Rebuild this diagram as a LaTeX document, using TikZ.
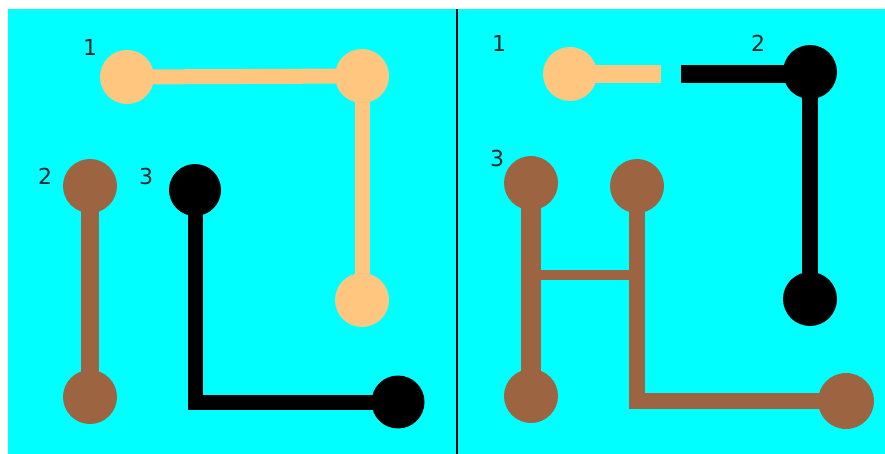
\documentclass[tikz,border=0pt]{standalone}
\usepackage{fontspec}
\setmainfont{DejaVu Sans}
\definecolor{peach}{RGB}{255,198,128}
\definecolor{brownish}{RGB}{156,100,65}
\definecolor{aqua}{RGB}{0,255,255}
\definecolor{ink}{RGB}{10,40,40}
\pgfdeclarelayer{bg}
\pgfdeclarelayer{wires}
\pgfsetlayers{bg,wires,main}
\begin{document}
\begin{tikzpicture}[x=1pt,y=-1pt,
  pad/.style={circle,fill=#1,inner sep=0pt,minimum size=54pt},
  lbl/.style={font=\fontsize{22}{22}\selectfont,text=ink,inner sep=0pt},
  wire/.style={draw=#1,line cap=butt}]
\useasboundingbox (0,0) rectangle (885,454);
\begin{pgfonlayer}{bg}
  \fill[white] (0,0) rectangle (885,454);
  \fill[aqua] (8,9) rectangle (885,454);
  \fill[black] (456,9) rectangle (458,454);
\end{pgfonlayer}
% ---- left panel ----
\node[pad=peach] (p1) at (127,77) {};
\node[pad=peach] (p2) at (362,76) {};
\node[pad=peach] (p3) at (362,300) {};
\node[pad=brownish] (r1) at (90,186) {};
\node[pad=brownish] (r2) at (90,397) {};
\node[pad=black,minimum size=52pt] (k1) at (195,190) {};
\node[pad=black,minimum size=53pt] (k2) at (398,402) {};
\node[lbl] (l1) at (90,47) {1};
\node[lbl] (l2) at (45,176) {2};
\node[lbl] (l3) at (146,176) {3};
% ---- right panel ----
\node[pad=peach] (q1) at (570,74) {};
\node[pad=black] (m1) at (810,72) {};
\node[pad=black] (m2) at (810,299) {};
\node[pad=brownish] (s1) at (531,183) {};
\node[pad=brownish] (s2) at (637,186) {};
\node[pad=brownish] (s3) at (531,396) {};
\node[pad=brownish,minimum size=56pt] (s4) at (846,401) {};
\coordinate (qstub) at (661,74);
\coordinate (mstub) at (681,74);
\node[lbl] (n1) at (499,43) {1};
\node[lbl] (n2) at (758,43) {2};
\node[lbl] (n3) at (497,158) {3};
\begin{pgfonlayer}{wires}
  \draw[wire=peach,line width=15pt] (p1.center) -- (p2.center);
  \draw[wire=peach,line width=15pt] (p2.center) -- (p3.center);
  \draw[wire=brownish,line width=18pt] (r1.center) -- (r2.center);
  \draw[wire=black,line width=15pt,line join=miter] (k1.center) |- (k2.center);
  \draw[wire=peach,line width=18pt] (q1.center) -- (qstub);
  \draw[wire=black,line width=18pt] (mstub) -- (mstub -| m1.center);
  \draw[wire=black,line width=16pt] (m1.center) -- (m2.center);
  \draw[wire=brownish,line width=20pt] (s1.center) -- (s3.center);
  \draw[wire=brownish,line width=16pt,line join=miter] (s2.center) |- (s4.center);
  \draw[wire=brownish,line width=10pt] (s1.center |- 0,275) -- (s2.center |- 0,275);
\end{pgfonlayer}
\end{tikzpicture}
\end{document}
